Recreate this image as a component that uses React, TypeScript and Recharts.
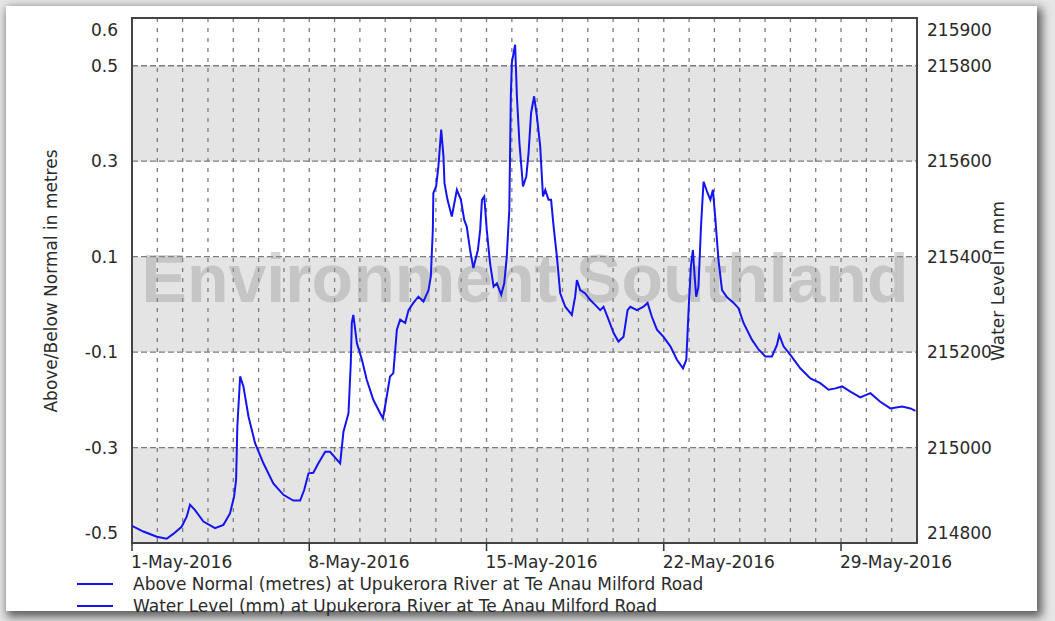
import {
  LineChart,
  Line,
  XAxis,
  YAxis,
  CartesianGrid,
  ReferenceArea,
  ReferenceLine,
} from "recharts";

// days since 1-May-2016 00:00
const dayOffsets = [
  0.0, 0.45, 0.98, 1.37, 1.63, 1.96, 2.16, 2.29, 2.49, 2.82,
  3.28, 3.61, 3.87, 4.03, 4.11, 4.16, 4.27, 4.4, 4.6, 4.86,
  5.19, 5.58, 5.98, 6.37, 6.64, 6.8, 6.97, 7.16, 7.36, 7.63,
  7.82, 8.22, 8.35, 8.55, 8.64, 8.68, 8.74, 8.88, 9.08, 9.27,
  9.53, 9.8, 9.91, 10.06, 10.19, 10.32, 10.46, 10.59, 10.79, 10.92,
  11.11, 11.31, 11.51, 11.71, 11.8, 11.88, 11.9, 12.01, 12.1, 12.21,
  12.3, 12.34, 12.46, 12.63, 12.83, 12.99, 13.12, 13.22, 13.35, 13.48,
  13.66, 13.75, 13.82, 13.91, 14.01, 14.14, 14.28, 14.41, 14.58, 14.7,
  14.8, 14.9, 14.96, 15.0, 15.07, 15.13, 15.2, 15.3, 15.44, 15.57,
  15.66, 15.76, 15.88, 15.99, 16.12, 16.23, 16.32, 16.45, 16.55, 16.65,
  16.78, 16.91, 17.11, 17.37, 17.5, 17.57, 17.7, 17.9, 18.1, 18.29,
  18.49, 18.62, 18.82, 19.02, 19.21, 19.41, 19.57, 19.68, 19.94, 20.2,
  20.36, 20.53, 20.73, 20.99, 21.26, 21.52, 21.76, 21.89, 21.98, 22.07,
  22.15, 22.22, 22.28, 22.37, 22.47, 22.57, 22.71, 22.84, 22.94, 23.03,
  23.16, 23.3, 23.5, 23.76, 23.95, 24.15, 24.48, 24.75, 25.01, 25.27,
  25.47, 25.56, 25.73, 26.0, 26.39, 26.79, 27.18, 27.51, 27.78, 28.04,
  28.37, 28.76, 29.16, 29.55, 29.95, 30.41, 30.74, 30.94,
];

// above / below normal, metres
const aboveNormal = [
  -0.464, -0.476, -0.487, -0.491, -0.481, -0.466, -0.445, -0.42, -0.431, -0.455,
  -0.469, -0.462, -0.438, -0.403, -0.368, -0.256, -0.151, -0.172, -0.235, -0.291,
  -0.333, -0.375, -0.399, -0.411, -0.411, -0.389, -0.354, -0.353, -0.333, -0.309,
  -0.309, -0.333, -0.267, -0.228, -0.123, -0.039, -0.022, -0.081, -0.116, -0.158,
  -0.2, -0.228, -0.239, -0.193, -0.151, -0.144, -0.053, -0.032, -0.039, -0.012,
  0.003, 0.016, 0.006, 0.03, 0.058, 0.156, 0.233, 0.247, 0.289, 0.366,
  0.31, 0.254, 0.219, 0.184, 0.24, 0.219, 0.177, 0.163, 0.114, 0.076,
  0.114, 0.156, 0.219, 0.226, 0.156, 0.086, 0.037, 0.044, 0.02, 0.044,
  0.1, 0.198, 0.436, 0.506, 0.527, 0.544, 0.436, 0.338, 0.247, 0.268,
  0.317, 0.401, 0.436, 0.394, 0.331, 0.226, 0.24, 0.219, 0.219, 0.163,
  0.1, 0.023, -0.005, -0.022, 0.016, 0.051, 0.03, 0.023, 0.009, -0.001,
  -0.012, -0.005, -0.032, -0.06, -0.078, -0.068, -0.012, -0.005, -0.012, -0.005,
  0.003, -0.026, -0.053, -0.068, -0.088, -0.116, -0.134, -0.116, -0.012, 0.079,
  0.114, 0.058, 0.016, 0.037, 0.163, 0.257, 0.236, 0.219, 0.24, 0.184,
  0.093, 0.03, 0.015, 0.003, -0.008, -0.039, -0.074, -0.095, -0.109, -0.109,
  -0.085, -0.064, -0.088, -0.106, -0.134, -0.155, -0.165, -0.179, -0.176, -0.172,
  -0.183, -0.195, -0.186, -0.204, -0.218, -0.214, -0.218, -0.223,
];

const dayTicks = Array.from({ length: 32 }, (_, i) => i);
const dateLabelDays = [0, 7, 14, 21, 28];
const dateLabels = ["1-May-2016", "8-May-2016", "15-May-2016", "22-May-2016", "29-May-2016"];
const metreTicks = [-0.5, -0.3, -0.1, 0.1, 0.3, 0.5, 0.6];
const mmTicks = [214800, 215000, 215200, 215400, 215600, 215800, 215900];
const shadedBands = [
  [0.3, 0.5],
  [-0.1, 0.1],
  [-0.5, -0.3],
];
const gridLevels = [0.5, 0.3, 0.1, -0.1, -0.3];
const legendItems = [
  "Above Normal (metres) at Upukerora River at Te Anau Milford Road",
  "Water Level (mm) at Upukerora River at Te Anau Milford Road",
];

const data = dayOffsets.map((t, i) => ({ t, v: aboveNormal[i] }));

const FONT = "'DejaVu Sans', Verdana, sans-serif";
const FS = 17;
const INK = "#2a2a2a";
const BLUE = "#1414f0";

function DateTick({ x, y, payload }: any) {
  const idx = dateLabelDays.indexOf(payload.value);
  if (idx < 0) return <g />;
  return (
    <g>
      <line x1={x} x2={x} y1={y} y2={y + 8} stroke="#333" strokeWidth={1.5} />
      <text x={x - 1} y={y + 25} textAnchor="start" fontSize={FS} fontFamily={FONT} fill={INK}>
        {dateLabels[idx]}
      </text>
    </g>
  );
}

function edgeShift(value: number, top: number, bottom: number) {
  if (value === top) return 12;
  if (value === bottom) return -10;
  return 0;
}

function MetreTick({ x, y, payload }: any) {
  return (
    <text
      x={x}
      y={y + edgeShift(payload.value, 0.6, -0.5)}
      dy="0.36em"
      textAnchor="end"
      fontSize={FS}
      fontFamily={FONT}
      fill={INK}
    >
      {String(payload.value)}
    </text>
  );
}

function MillimetreTick({ x, y, payload }: any) {
  return (
    <text
      x={x}
      y={y + edgeShift(payload.value, 215900, 214800)}
      dy="0.36em"
      textAnchor="start"
      fontSize={FS}
      fontFamily={FONT}
      fill={INK}
    >
      {String(payload.value)}
    </text>
  );
}

export default function App() {
  return (
    <div
      style={{
        position: "fixed",
        left: 0,
        top: 0,
        width: 1055,
        height: 621,
        overflow: "hidden",
        background: "#e6e6e6",
        fontFamily: FONT,
      }}
    >
      <div
        style={{
          position: "absolute",
          left: 6,
          top: 6,
          width: 1031,
          height: 605,
          background: "#fff",
          boxShadow: "3px 4px 9px 2px rgba(0,0,0,0.6)",
        }}
      />

      <LineChart
        width={1055}
        height={621}
        data={data}
        margin={{ top: 18, right: 58, bottom: 38, left: 72 }}
        style={{ position: "absolute", left: 0, top: 0 }}
      >
        {shadedBands.map(([lo, hi]) => (
          <ReferenceArea
            key={lo}
            yAxisId="left"
            y1={lo}
            y2={hi}
            fill="#e4e4e4"
            fillOpacity={1}
            stroke="none"
            zIndex={-200}
          />
        ))}
        <CartesianGrid
          horizontal={false}
          vertical
          yAxisId="left"
          stroke="#7c7c7c"
          strokeWidth={1.3}
          strokeDasharray="4 6"
        />
        {gridLevels.map((lv) => (
          <ReferenceLine
            key={lv}
            yAxisId="left"
            y={lv}
            stroke="#7c7c7c"
            strokeWidth={1.3}
            strokeDasharray="6 3"
            zIndex={-50}
          />
        ))}
        <text
          x={525}
          y={302}
          textAnchor="middle"
          fontSize={68}
          fontWeight="bold"
          fontFamily="'Liberation Sans', Arial, sans-serif"
          fill="rgba(150,150,150,0.4)"
        >
          Environment Southland
        </text>
        <XAxis
          dataKey="t"
          type="number"
          domain={[0, 31]}
          ticks={dayTicks}
          interval={0}
          tick={<DateTick />}
          tickSize={0}
          tickMargin={0}
          axisLine={false}
          tickLine={false}
          height={40}
        />
        <YAxis
          yAxisId="left"
          type="number"
          domain={[-0.5, 0.6]}
          ticks={metreTicks}
          interval={0}
          tick={<MetreTick />}
          tickSize={0}
          tickMargin={14}
          axisLine={false}
          tickLine={false}
          width={60}
          allowDataOverflow
        />
        <YAxis
          yAxisId="right"
          orientation="right"
          type="number"
          domain={[214800, 215900]}
          ticks={mmTicks}
          interval={0}
          tick={<MillimetreTick />}
          tickSize={0}
          tickMargin={10}
          axisLine={false}
          tickLine={false}
          width={80}
          allowDataOverflow
        />
        <Line
          yAxisId="left"
          dataKey="v"
          type="linear"
          stroke={BLUE}
          strokeWidth={2}
          dot={false}
          isAnimationActive={false}
        />
        <ReferenceArea
          yAxisId="left"
          x1={0}
          x2={31}
          y1={-0.5}
          y2={0.6}
          fill="none"
          stroke="#444"
          strokeWidth={2}
        />
      </LineChart>

      <div
        style={{
          position: "absolute",
          left: 51,
          top: 281,
          transform: "translate(-50%, -50%) rotate(-90deg)",
          whiteSpace: "nowrap",
          fontSize: FS,
          color: INK,
        }}
      >
        Above/Below Normal in metres
      </div>
      <div
        style={{
          position: "absolute",
          left: 998,
          top: 281,
          transform: "translate(-50%, -50%) rotate(-90deg)",
          whiteSpace: "nowrap",
          fontSize: FS,
          color: INK,
        }}
      >
        Water Level in mm
      </div>

      {legendItems.map((label, i) => (
        <div
          key={label}
          style={{
            position: "absolute",
            left: 77,
            top: 573 + i * 22,
            height: 21,
            display: "flex",
            alignItems: "center",
            whiteSpace: "nowrap",
            fontSize: FS,
            color: INK,
          }}
        >
          <span style={{ display: "inline-block", width: 36, height: 2, background: BLUE, marginRight: 20 }} />
          {label}
        </div>
      ))}
    </div>
  );
}
